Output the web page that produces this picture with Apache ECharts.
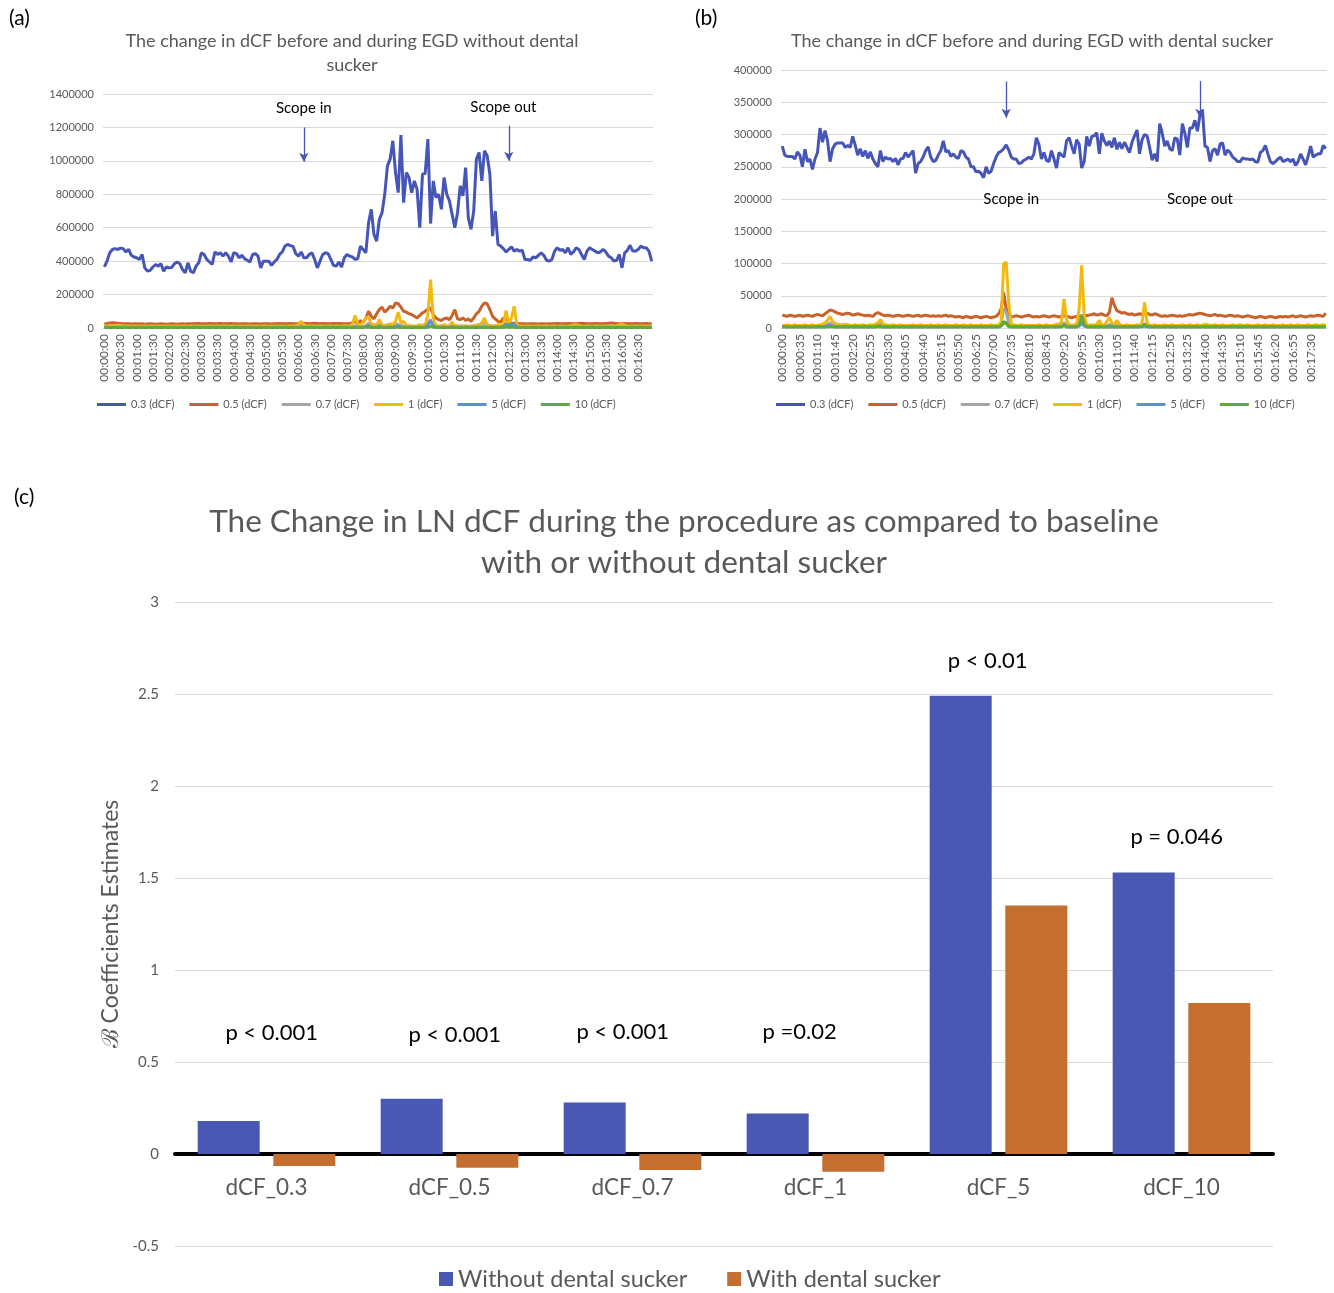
<!DOCTYPE html>
<html>
<head>
<meta charset="utf-8">
<script src="https://cdn.jsdelivr.net/npm/echarts@6/dist/echarts.min.js"></script>
<style>
  body { margin: 0; background: #fff; }
  #chart { width: 1334px; height: 1293px; }
</style>
</head>
<body>
<div id="chart"></div>
<script>
// time labels, one sample every 5 seconds
function clock(sec) {
  var m = Math.floor(sec / 60), s = sec % 60;
  return '00:' + String(m).padStart(2, '0') + ':' + String(s).padStart(2, '0');
}
var timesA = Array.from({ length: 204 }, function (_, i) { return clock(i * 5); });
var timesB = Array.from({ length: 217 }, function (_, i) { return clock(i * 5); });

var seriesNames = ['0.3 (dCF)', '0.5 (dCF)', '0.7 (dCF)', '1 (dCF)', '5 (dCF)', '10 (dCF)'];
var lineColors = ['#4655b8', '#c9632a', '#a5a5a5', '#f2b90f', '#5b8fd9', '#62a83c'];

// (a) without dental sucker, values in thousands
var a03 = [
  366,400,450,470,475,470,478,475,455,470,
  435,425,420,410,440,360,340,345,365,380,
  370,385,340,365,360,362,385,395,385,350,
  330,390,340,330,370,390,450,440,410,395,
  380,455,440,450,430,450,430,395,450,445,
  420,435,415,405,395,440,445,430,360,400,
  400,400,375,395,410,440,455,490,500,493,
  488,445,430,455,420,420,440,450,410,360,
  400,440,450,445,410,375,370,395,365,420,
  440,430,425,410,415,490,470,450,630,710,
  560,520,650,690,800,970,1010,1120,930,810,
  1154,750,930,900,810,880,830,600,920,925,
  1130,625,880,780,800,710,900,800,760,680,
  600,690,850,790,960,660,590,700,1010,1050,
  880,1060,1030,920,550,700,500,490,475,455,
  470,485,460,470,460,465,410,410,405,425,
  420,435,450,435,405,400,410,460,480,465,
  470,450,480,440,455,480,470,440,410,460,
  480,470,460,450,455,470,455,430,420,400,
  405,440,360,450,465,495,460,460,470,490,
  480,480,460,400
];
var a05 = [
  25,27,30,32,30,28,27,26,25,26,
  24,25,26,24,25,23,24,25,24,23,
  24,25,24,23,24,25,24,23,24,25,
  24,25,26,25,26,27,26,25,26,27,
  26,25,26,27,26,25,26,27,26,25,
  24,25,26,25,24,25,26,25,24,25,
  26,25,24,25,26,27,26,25,26,27,
  26,25,26,27,28,27,26,27,28,27,
  26,27,26,25,26,27,26,27,26,25,
  25,27,30,40,25,45,30,60,100,70,
  55,85,110,125,95,110,130,120,150,145,
  125,100,95,85,80,70,60,75,90,100,
  115,120,80,60,50,45,55,60,50,75,
  110,55,50,60,45,55,40,60,85,100,
  130,150,145,110,70,55,40,35,60,55,
  35,30,28,27,25,26,25,24,25,26,
  25,24,26,25,24,25,26,25,27,26,
  25,26,27,26,25,26,27,28,27,26,
  25,26,27,26,25,26,27,28,30,28,
  26,25,26,27,26,25,26,27,26,25,
  26,27,26,25
];
var a07 = [
  8,8,9,8,8,9,8,8,7,8,
  8,7,8,8,7,8,8,7,8,8,
  7,8,8,7,8,8,7,8,8,7,
  8,8,7,8,8,9,8,8,7,8,
  8,7,8,8,9,8,8,7,8,8,
  8,8,7,8,8,7,8,8,9,8,
  8,7,8,8,7,8,8,9,8,8,
  7,8,8,10,8,8,7,8,8,7,
  8,8,7,8,8,7,8,8,9,8,
  8,8,9,10,8,9,8,12,30,15,
  10,12,40,15,12,20,15,18,25,20,
  15,12,10,12,10,8,10,12,15,20,
  35,50,20,15,12,10,12,10,12,10,
  15,10,12,10,12,10,8,12,15,20,
  25,30,20,15,10,12,15,10,8,25,
  15,20,12,8,8,9,8,8,8,8,
  8,7,8,8,7,8,8,7,8,8,
  7,8,8,7,8,8,9,8,8,7,
  8,8,7,8,8,7,8,8,9,8,
  8,7,8,8,7,8,8,7,8,8,
  8,7,8,8
];
var a1 = [
  12,12,13,14,15,16,15,13,12,12,
  11,12,12,11,12,12,11,12,12,11,
  12,12,11,12,12,11,12,12,11,12,
  12,11,12,12,11,12,12,11,12,12,
  11,12,12,11,12,12,11,12,12,11,
  12,12,11,12,12,11,12,12,11,12,
  12,11,12,12,11,12,12,11,12,12,
  12,13,20,40,18,12,12,12,12,11,
  12,12,11,12,12,11,12,12,11,13,
  12,14,20,75,25,15,35,60,66,25,
  20,15,50,20,12,15,25,20,40,95,
  30,40,15,12,12,12,12,20,12,15,
  80,290,60,12,12,12,20,12,12,35,
  12,12,11,12,12,11,12,12,15,20,
  30,60,20,12,12,12,20,15,20,105,
  30,60,130,20,12,12,11,12,12,11,
  12,12,11,12,12,11,12,12,11,12,
  12,11,12,14,18,20,15,12,11,12,
  12,11,12,12,11,12,12,11,12,12,
  14,18,24,16,12,11,12,12,11,12,
  12,11,12,12
];
var a5 = [
  4,4,4,4,4,4,4,4,4,4,
  4,4,4,4,4,4,4,4,4,4,
  4,4,4,4,4,4,4,4,4,4,
  4,4,4,4,4,4,4,4,4,4,
  4,4,4,4,4,4,4,4,4,4,
  4,4,4,4,4,4,4,4,4,4,
  4,4,4,4,4,4,4,4,4,4,
  4,4,4,5,4,4,4,4,4,4,
  4,4,4,4,4,4,4,4,4,4,
  4,4,4,8,4,4,5,10,15,6,
  5,5,12,6,5,5,6,5,8,10,
  6,5,4,4,4,4,4,5,4,5,
  20,40,15,5,4,4,5,4,4,8,
  4,4,4,4,5,4,4,4,5,6,
  6,8,6,5,4,4,5,6,10,25,
  15,20,22,8,4,4,4,4,4,4,
  4,4,4,4,4,4,4,4,4,4,
  4,4,4,4,4,4,4,4,4,4,
  4,4,4,4,4,4,4,4,4,4,
  4,4,4,4,4,4,4,4,4,4,
  4,4,4,4
];
var a10 = [
  3,3,3,3,3,3,3,3,3,3,
  3,3,3,3,3,3,3,3,3,3,
  3,3,3,3,3,3,3,3,3,3,
  3,3,3,3,3,3,3,3,3,3,
  3,3,3,3,3,3,3,3,3,3,
  3,3,3,3,3,3,3,3,3,3,
  3,3,3,3,3,3,3,3,3,3,
  3,3,3,3,3,3,3,3,3,3,
  3,3,3,3,3,3,3,3,3,3,
  3,3,3,4,3,3,3,4,5,3,
  3,3,5,3,3,3,3,3,4,4,
  3,3,3,3,3,3,3,3,3,3,
  5,10,5,3,3,3,3,3,3,3,
  3,3,3,3,3,3,3,3,3,3,
  3,4,3,3,3,3,3,3,4,6,
  4,5,5,3,3,3,3,3,3,3,
  3,3,3,3,3,3,3,3,3,3,
  3,3,3,3,3,3,3,3,3,3,
  3,3,3,3,3,3,3,3,3,3,
  3,3,3,3,3,3,3,3,3,3,
  3,3,3,3
];

// (b) with dental sucker, values in thousands
var b03 = [
  282,268,266,266,266,262,273,268,250,277,
  258,262,246,262,272,310,288,306,290,258,
  278,285,287,287,287,280,283,280,297,283,
  268,278,266,275,263,273,262,255,250,275,
  258,265,262,263,258,263,253,262,263,272,
  265,270,275,240,255,258,265,275,281,265,
  258,260,268,275,290,273,275,266,270,265,
  263,275,273,265,262,250,250,242,243,240,
  233,250,240,243,255,265,272,274,278,284,
  276,265,262,262,255,256,260,262,265,262,
  270,295,285,262,272,260,258,275,262,248,
  272,268,265,290,295,282,270,292,285,248,
  258,297,282,297,298,303,270,302,290,283,
  290,280,295,277,288,278,288,280,272,288,
  298,307,270,292,300,298,280,260,270,258,
  317,302,282,290,278,275,295,293,268,317,
  302,280,310,310,322,305,330,338,282,280,
  258,275,278,268,285,287,268,276,272,265,
  262,258,258,264,262,262,261,262,258,257,
  272,275,283,270,258,255,258,262,265,258,
  260,262,258,262,252,258,270,262,253,266,
  282,265,268,270,270,283,278
];
var b05 = [
  20,19,18,20,19,18,19,20,18,19,
  20,19,18,20,21,20,19,22,25,28,
  27,25,23,22,21,22,23,22,20,21,
  22,21,20,19,20,19,18,22,24,22,
  20,19,20,19,18,19,20,19,18,19,
  20,19,18,19,20,18,19,20,19,18,
  19,18,19,18,19,20,18,19,18,17,
  18,17,16,18,17,16,17,18,17,16,
  17,18,17,16,17,18,22,30,55,30,
  18,17,18,19,18,17,18,19,20,18,
  17,18,17,18,19,18,17,18,19,18,
  17,18,19,18,17,16,17,18,19,18,
  20,19,20,21,22,20,21,22,20,19,
  24,47,35,27,25,23,24,22,21,22,
  20,21,22,21,22,23,21,20,22,21,
  19,18,19,18,19,20,19,18,19,18,
  19,20,21,20,21,22,23,22,21,20,
  19,20,21,19,20,19,18,19,20,19,
  18,19,18,17,18,19,18,17,16,17,
  18,17,16,17,18,17,16,17,18,17,
  18,17,18,19,17,18,19,18,17,18,
  19,18,19,20,19,18,23
];
var b07 = [
  3,3,4,3,3,4,3,3,3,4,
  3,3,4,3,3,4,4,5,6,8,
  5,4,3,3,4,3,3,4,3,3,
  3,4,3,3,4,3,3,5,6,8,
  4,3,3,4,3,3,4,3,3,4,
  3,3,4,3,3,4,3,3,4,3,
  3,4,3,3,4,3,3,4,3,3,
  4,3,3,4,3,3,4,3,3,4,
  3,3,4,3,3,4,4,8,30,25,
  8,4,3,3,4,3,3,4,3,3,
  3,4,3,3,4,3,3,4,3,3,
  3,4,8,4,3,3,4,3,6,15,
  5,3,3,4,3,4,5,3,3,4,
  5,6,4,5,4,3,3,4,3,3,
  3,4,3,4,6,4,3,3,4,3,
  3,4,3,3,4,3,3,4,3,3,
  3,3,4,3,3,4,3,3,4,3,
  4,3,3,4,3,3,4,3,3,4,
  3,3,4,3,3,4,3,3,4,3,
  3,4,3,3,4,3,3,4,3,3,
  4,3,3,4,3,3,4,3,3,4,
  3,4,3,3,4,3,3
];
var b1 = [
  4,4,5,4,4,5,4,4,4,5,
  4,4,5,4,4,5,6,8,12,18,
  10,7,6,5,5,6,5,4,4,5,
  4,4,5,4,4,5,4,6,8,13,
  7,5,4,4,5,4,4,5,4,4,
  4,4,5,4,4,5,4,4,4,5,
  4,4,5,4,4,5,4,4,4,5,
  4,4,5,4,4,5,4,4,4,5,
  4,4,4,5,4,4,5,8,100,102,
  40,6,5,4,4,5,4,4,4,4,
  4,4,5,4,4,5,4,4,4,6,
  5,10,45,12,5,4,5,6,30,97,
  20,5,4,5,4,6,12,5,4,10,
  16,8,5,12,6,4,4,5,4,4,
  4,5,4,8,40,8,4,4,5,4,
  4,4,5,4,4,5,4,4,4,5,
  4,4,5,4,4,5,4,4,6,5,
  4,4,5,4,4,5,4,4,4,5,
  4,4,5,4,4,5,4,4,4,5,
  4,4,5,4,4,5,4,4,4,5,
  4,4,5,4,4,5,4,4,4,5,
  4,4,5,4,4,5,4
];
var b5 = [
  2,2,2,2,2,2,2,2,2,2,
  2,2,2,2,2,2,2,2,3,4,
  3,2,2,2,2,2,2,2,2,2,
  2,2,2,2,2,2,2,2,3,3,
  2,2,2,2,2,2,2,2,2,2,
  2,2,2,2,2,2,2,2,2,2,
  2,2,2,2,2,2,2,2,2,2,
  2,2,2,2,2,2,2,2,2,2,
  2,2,2,2,2,2,2,4,10,8,
  3,2,2,2,2,2,2,2,2,2,
  2,2,2,2,2,2,2,2,2,2,
  2,2,4,2,2,2,2,2,3,8,
  3,2,2,2,2,2,2,2,2,2,
  2,3,2,2,2,2,2,2,2,2,
  2,2,2,2,3,2,2,2,2,2,
  2,2,2,2,2,2,2,2,2,2,
  2,2,2,2,2,2,2,2,2,2,
  2,2,2,2,2,2,2,2,2,2,
  2,2,2,2,2,2,2,2,2,2,
  2,2,2,2,2,2,2,2,2,2,
  2,2,2,2,2,2,2,2,2,2,
  2,2,2,2,2,2,2
];
var b10 = [
  1.5,1.5,1.5,1.5,1.5,1.5,1.5,1.5,1.5,1.5,
  1.5,1.5,1.5,1.5,1.5,1.5,1.5,1.5,2,2.5,
  2,1.5,1.5,1.5,1.5,1.5,1.5,1.5,1.5,1.5,
  1.5,1.5,1.5,1.5,1.5,1.5,1.5,1.5,2,2,
  1.5,1.5,1.5,1.5,1.5,1.5,1.5,1.5,1.5,1.5,
  1.5,1.5,1.5,1.5,1.5,1.5,1.5,1.5,1.5,1.5,
  1.5,1.5,1.5,1.5,1.5,1.5,1.5,1.5,1.5,1.5,
  1.5,1.5,1.5,1.5,1.5,1.5,1.5,1.5,1.5,1.5,
  1.5,1.5,1.5,1.5,1.5,1.5,1.5,3,8,7,
  2,1.5,1.5,1.5,1.5,1.5,1.5,1.5,1.5,1.5,
  1.5,1.5,1.5,1.5,1.5,1.5,1.5,1.5,1.5,1.5,
  2,2,5,2,1.5,1.5,1.5,1.5,4,20,
  6,2,1.5,1.5,1.5,1.5,1.5,1.5,1.5,1.5,
  1.5,2,1.5,1.5,1.5,1.5,1.5,1.5,1.5,1.5,
  1.5,1.5,2,2,6,2,1.5,1.5,1.5,1.5,
  1.5,1.5,1.5,1.5,1.5,1.5,1.5,1.5,1.5,1.5,
  1.5,1.5,1.5,1.5,1.5,1.5,1.5,1.5,1.5,1.5,
  1.5,1.5,1.5,1.5,1.5,1.5,1.5,1.5,1.5,1.5,
  1.5,1.5,1.5,1.5,1.5,1.5,1.5,1.5,1.5,1.5,
  1.5,1.5,1.5,1.5,1.5,1.5,1.5,1.5,1.5,1.5,
  1.5,1.5,1.5,1.5,1.5,1.5,1.5,1.5,1.5,1.5,
  1.5,1.5,1.5,1.5,1.5,1.5,1.5
];

// (c) LN dCF coefficient estimates
var coefCats = ['dCF_0.3', 'dCF_0.5', 'dCF_0.7', 'dCF_1', 'dCF_5', 'dCF_10'];
var withoutSucker = [0.18, 0.30, 0.28, 0.22, 2.49, 1.53];
var withSucker = [-0.065, -0.075, -0.087, -0.096, 1.35, 0.82];
var pTexts = ['p < 0.001', 'p < 0.001', 'p < 0.001', 'p =0.02', 'p < 0.01', 'p = 0.046'];

var dataA = [a03, a05, a07, a1, a5, a10];
var dataB = [b03, b05, b07, b1, b5, b10];

var FONT = 'Lato';
var grey = '#595959';
var gridGrey = '#d9d9d9';
var arrowBlue = '#4655b8';

function lineSeries(list, axis) {
  return list.map(function (vals, i) {
    return {
      name: seriesNames[i],
      type: 'line',
      xAxisIndex: axis,
      yAxisIndex: axis,
      data: vals.map(function (v) { return v * 1000; }),
      symbol: 'none',
      color: lineColors[i],
      lineStyle: { width: 3 },
      z: 2 + i
    };
  });
}

function scopeMarks(inAt, outAt, arrowIn, arrowOut) {
  return {
    markLine: {
      silent: true,
      symbol: ['none', 'arrow'],
      symbolSize: [7, 9],
      label: { show: false },
      lineStyle: { color: arrowBlue, width: 1.3, type: 'solid' },
      data: [
        [{ coord: [arrowIn[0], arrowIn[1]] }, { coord: [arrowIn[0], arrowIn[2]] }],
        [{ coord: [arrowOut[0], arrowOut[1]] }, { coord: [arrowOut[0], arrowOut[2]] }]
      ]
    },
    markPoint: {
      silent: true,
      symbolSize: 0,
      label: { show: true, formatter: '{b}', color: '#000', fontSize: 15, fontFamily: FONT },
      data: [
        { name: 'Scope in', coord: inAt },
        { name: 'Scope out', coord: outAt }
      ]
    }
  };
}

var seriesA = lineSeries(dataA, 0);
Object.assign(seriesA[0], scopeMarks(['00:06:10', 1316000], ['00:12:20', 1322000],
  ['00:06:10', 1200000, 995000], ['00:12:30', 1210000, 1000000]));
var seriesB = lineSeries(dataB, 1);
Object.assign(seriesB[0], scopeMarks(['00:07:35', 200000], ['00:13:50', 200000],
  ['00:07:25', 382000, 326000], ['00:13:50', 383000, 326000]));

// p-value labels sit on the blue bar's column; nudged sideways as in the source
var pOffsets = [43, 43, 28, 22, 27, 33];
var pAt = [0.658, 0.647, 0.663, 0.663, 2.679, 1.723];

function plain(v) { return String(v); }

var chart = echarts.init(document.getElementById('chart'));
chart.setOption({
  animation: false,
  textStyle: { fontFamily: FONT },
  graphic: [
    { type: 'text', x: 9, y: 18, style: { text: '(a)', fontSize: 21, fontFamily: FONT, fill: '#000', verticalAlign: 'middle' } },
    { type: 'text', x: 695, y: 18, style: { text: '(b)', fontSize: 21, fontFamily: FONT, fill: '#000', verticalAlign: 'middle' } },
    { type: 'text', x: 14, y: 497, style: { text: '(c)', fontSize: 21, fontFamily: FONT, fill: '#000', verticalAlign: 'middle' } },
    { type: 'text', x: 352, y: 53, style: { text: 'The change in dCF before and during EGD without dental\nsucker', fontSize: 18, lineHeight: 24, fontFamily: FONT, fill: grey, align: 'center', verticalAlign: 'middle' } },
    { type: 'text', x: 1032, y: 41, style: { text: 'The change in dCF before and during EGD with dental sucker', fontSize: 18, fontFamily: FONT, fill: grey, align: 'center', verticalAlign: 'middle' } },
    { type: 'text', x: 684, y: 542, style: { text: 'The Change in LN dCF during the procedure as compared to baseline\nwith or without dental sucker', fontSize: 31.5, lineHeight: 41, fontFamily: FONT, fill: grey, align: 'center', verticalAlign: 'middle' } }
  ],
  legend: [
    {
      data: seriesNames, left: 92, top: 394, icon: 'rect', itemWidth: 29, itemHeight: 3, itemGap: 15,
      textStyle: { fontSize: 11, color: grey, fontFamily: FONT }
    },
    {
      data: seriesNames, left: 771, top: 394, icon: 'rect', itemWidth: 29, itemHeight: 3, itemGap: 15,
      textStyle: { fontSize: 11, color: grey, fontFamily: FONT }
    },
    {
      data: ['Without dental sucker', 'With dental sucker'], left: 434, top: 1262, icon: 'rect',
      itemWidth: 14, itemHeight: 14, itemGap: 40, itemStyle: { borderWidth: 0 },
      textStyle: { fontSize: 23.5, color: grey, fontFamily: FONT }
    }
  ],
  grid: [
    { left: 103, right: 681, top: 94, height: 234 },
    { left: 781, right: 7, top: 70, height: 258 },
    { left: 175, right: 61, top: 602, height: 644 }
  ],
  xAxis: [
    {
      type: 'category', gridIndex: 0, data: timesA,
      axisTick: { show: false },
      axisLine: { lineStyle: { color: gridGrey } },
      axisLabel: { interval: 5, rotate: 90, fontSize: 12, color: grey, margin: 6 }
    },
    {
      type: 'category', gridIndex: 1, data: timesB,
      axisTick: { show: false },
      axisLine: { lineStyle: { color: gridGrey } },
      axisLabel: { interval: 6, rotate: 90, fontSize: 12, color: grey, margin: 6 }
    },
    {
      type: 'category', gridIndex: 2, data: coefCats,
      axisTick: { show: false },
      axisLine: { onZero: true, lineStyle: { color: '#000', width: 4 } },
      // labels stay at the grid bottom, so pull them up under the zero line
      axisLabel: { fontSize: 22.5, color: grey, margin: -70 }
    }
  ],
  yAxis: [
    {
      type: 'value', gridIndex: 0, min: 0, max: 1400000, interval: 200000,
      axisLine: { show: false }, axisTick: { show: false },
      splitLine: { lineStyle: { color: gridGrey } },
      axisLabel: { fontSize: 11, color: grey, margin: 9, formatter: plain }
    },
    {
      type: 'value', gridIndex: 1, min: 0, max: 400000, interval: 50000,
      axisLine: { show: false }, axisTick: { show: false },
      splitLine: { lineStyle: { color: gridGrey } },
      axisLabel: { fontSize: 11, color: grey, margin: 9, formatter: plain }
    },
    {
      type: 'value', gridIndex: 2, min: -0.5, max: 3, interval: 0.5,
      axisLine: { show: false }, axisTick: { show: false },
      splitLine: { lineStyle: { color: gridGrey } },
      axisLabel: { fontSize: 15, color: grey, margin: 16 },
      name: 'ℬ Coefficients Estimates', nameLocation: 'middle', nameGap: 44,
      nameTextStyle: { fontSize: 23, color: grey, fontFamily: FONT }
    }
  ],
  series: seriesA.concat(seriesB, [
    {
      name: 'Without dental sucker', type: 'bar', xAxisIndex: 2, yAxisIndex: 2,
      data: withoutSucker, color: '#4858b3', barWidth: 62, barGap: '22%',
      markPoint: {
        silent: true,
        symbolSize: 0,
        label: { show: true, formatter: '{b}', color: '#000', fontSize: 22, fontFamily: FONT },
        data: coefCats.map(function (c, i) {
          return { name: pTexts[i], coord: [c, pAt[i]], label: { offset: [pOffsets[i], 0] } };
        })
      }
    },
    {
      name: 'With dental sucker', type: 'bar', xAxisIndex: 2, yAxisIndex: 2,
      data: withSucker, color: '#c46e30', barWidth: 62
    }
  ])
});
</script>
</body>
</html>
